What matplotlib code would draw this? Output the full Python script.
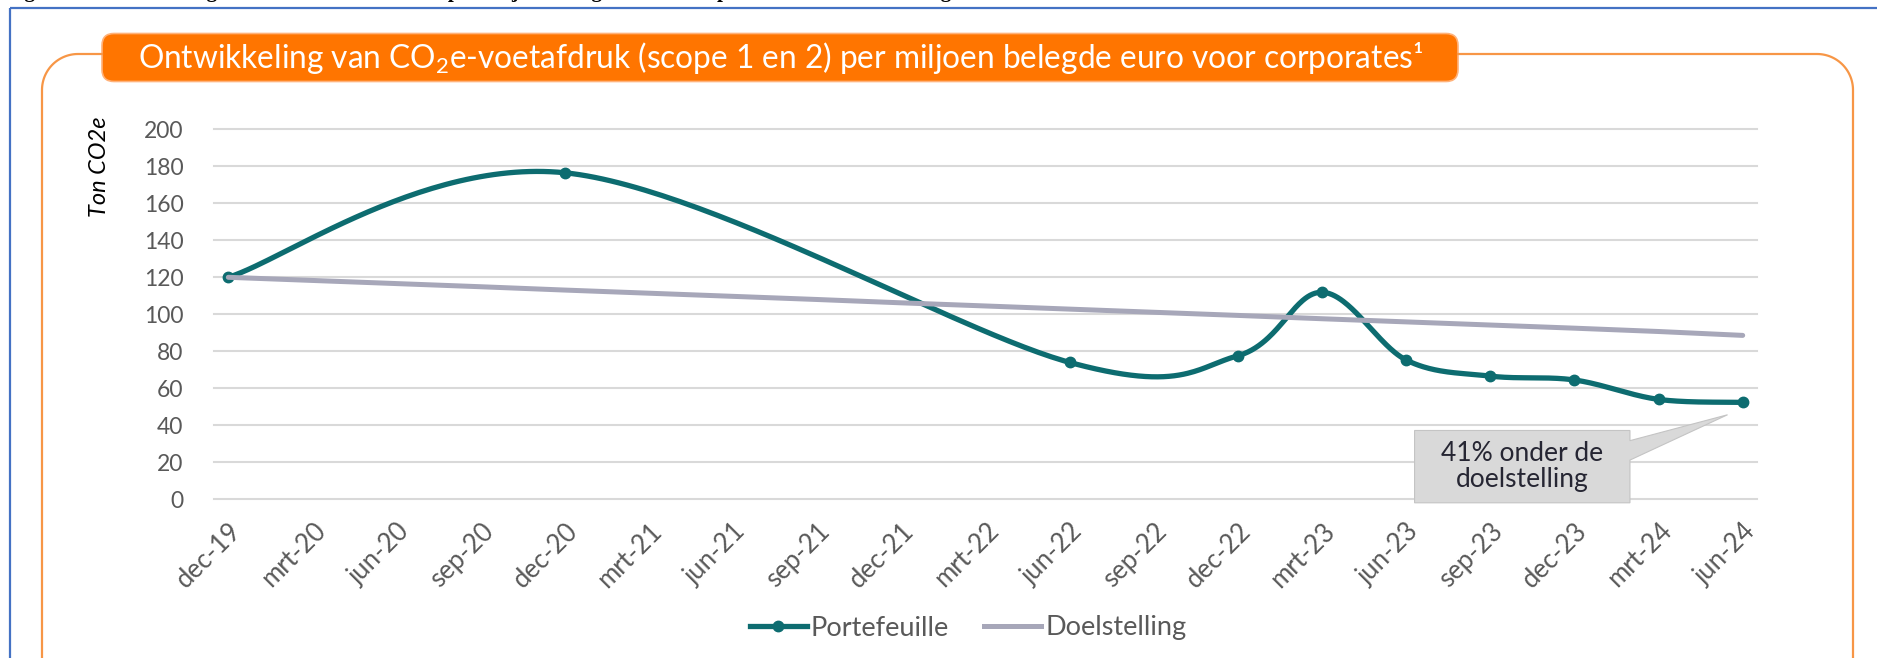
import matplotlib

matplotlib.use("Agg")
import matplotlib.pyplot as plt
import numpy as np
from matplotlib.lines import Line2D
from matplotlib.patches import FancyBboxPatch, Polygon
from matplotlib.transforms import ScaledTranslation

W, H, DPI = 1877, 658, 100

months = ["dec-19", "mrt-20", "jun-20", "sep-20", "dec-20", "mrt-21", "jun-21",
          "sep-21", "dec-21", "mrt-22", "jun-22", "sep-22", "dec-22", "mrt-23",
          "jun-23", "sep-23", "dec-23", "mrt-24", "jun-24"]
port_months = ["dec-19", "dec-20", "jun-22", "dec-22", "mrt-23", "jun-23",
               "sep-23", "dec-23", "mrt-24", "jun-24"]
port_values = [120.0, 176.5, 74.0, 77.6, 111.9, 75.3, 66.6, 64.5, 54.0, 52.4]
target_values = [120.0, 118.3, 116.6, 114.9, 113.1, 111.4, 109.7, 108.0, 106.2,
                 104.5, 102.8, 101.1, 99.4, 97.6, 95.9, 94.2, 92.5, 90.7, 88.6]
yticks = [0, 20, 40, 60, 80, 100, 120, 140, 160, 180, 200]
callout_text = "41% onder de\ndoelstelling"

TEAL = "#0D6C70"
GREY = "#A7A7B9"
LABEL = "#595959"
ORANGE = "#FF7500"
FRAME = "#F79646"
BLUE = "#4472C4"

plt.rcParams["font.family"] = ["Lato", "DejaVu Sans"]
plt.rcParams["mathtext.fontset"] = "custom"
plt.rcParams["mathtext.rm"] = "Lato"
plt.rcParams["mathtext.it"] = "Lato:italic"


def excel_smooth(x, y, n=60):
    # Bezier smoothing like Excel's "smoothed line"
    pts = np.column_stack([x, y]).astype(float)
    out = [pts[:1]]
    t = np.linspace(0, 1, n)[1:, None]
    for i in range(len(pts) - 1):
        p0 = pts[max(i - 1, 0)]
        p1, p2 = pts[i], pts[i + 1]
        p3 = pts[min(i + 2, len(pts) - 1)]
        c1 = p1 + (p2 - p0) / 6
        c2 = p2 - (p3 - p1) / 6
        seg = (1 - t) ** 3 * p1 + 3 * (1 - t) ** 2 * t * c1 + 3 * (1 - t) * t ** 2 * c2 + t ** 3 * p2
        out.append(seg)
    return np.vstack(out)


fig = plt.figure(figsize=(W / DPI, H / DPI), dpi=DPI)

# --- decorations in pixel space ---
bg = fig.add_axes([0, 0, 1, 1], zorder=0)
bg.set_xlim(0, W)
bg.set_ylim(H, 0)
bg.axis("off")
bg.plot([9.6, W], [8.4, 8.4], color=BLUE, lw=1.6, solid_capstyle="butt")
bg.plot([9.6, 9.6], [8.4, H], color=BLUE, lw=1.6, solid_capstyle="butt")

R = 36
ang = np.linspace(np.pi, 1.5 * np.pi, 30)
lx = np.concatenate([[42, 42], 42 + R + R * np.cos(ang), [102]])
ly = np.concatenate([[H, 54 + R], 54 + R + R * np.sin(ang), [54]])
bg.plot(lx, ly, color=FRAME, lw=1.6)
ang2 = np.linspace(1.5 * np.pi, 2 * np.pi, 30)
rx = np.concatenate([[1458], 1853 - R + R * np.cos(ang2), [1853, 1853]])
ry = np.concatenate([[54], 54 + R + R * np.sin(ang2), [54 + R, H]])
bg.plot(rx, ry, color=FRAME, lw=1.6)

bg.add_patch(FancyBboxPatch((102, 33.5), 1356, 48, boxstyle="round,pad=0,rounding_size=12",
                            facecolor=ORANGE, edgecolor="#FFB27A", lw=1.2))
title = bg.text(781, 58, "Ontwikkeling van CO$_2$e-voetafdruk (scope 1 en 2) per miljoen belegde euro voor corporates¹",
                color="white", fontsize=20, ha="center", va="center")
fig.canvas.draw()
tw = title.get_window_extent().width
title.set_fontsize(20 * 1287 / tw)

# caption above the frame, mostly cut off by the crop of the page
fig.text(6 / W, 1 + 2.5 / H, "Figuur 9: Ontwikkeling van de CO2e-voetafdruk per miljoen belegde euro ten opzichte van de doelstelling",
         family=["Liberation Serif", "DejaVu Serif"], weight="bold", fontsize=15, va="baseline", ha="left")

fig.text(100 / W, 1 - 167 / H, "Ton CO2e", rotation=90, style="italic", fontsize=17,
         ha="center", va="center", color="black")

# --- chart ---
ax = fig.add_axes([214 / W, 1 - 499.3 / H, (1757 - 214) / W, (499.3 - 129.3) / H], zorder=1)
ax.patch.set_alpha(0)
xi = {m: i for i, m in enumerate(months)}
px = [xi[m] for m in port_months]
curve = excel_smooth(px, port_values)
ax.plot(curve[:, 0], curve[:, 1], color=TEAL, lw=3.8, solid_capstyle="round", zorder=2)
ax.plot(px, port_values, "o", color=TEAL, ms=7.5, zorder=2)
ax.plot(range(len(months)), target_values, color=GREY, lw=3.6, solid_capstyle="round", zorder=3)

ax.set_xlim(-0.17, len(months) - 1 + 0.17)
ax.set_ylim(0, 200)
ax.set_yticks(yticks)
ax.set_xticks(range(len(months)))
ax.set_xticklabels(months, rotation=45, ha="right", va="center", rotation_mode="anchor")
ax.tick_params(axis="both", length=0, labelcolor=LABEL)
ax.tick_params(axis="y", pad=22, labelsize=16.5)
ax.tick_params(axis="x", pad=20, labelsize=18.5)
shift = ScaledTranslation(9 / DPI, 0, fig.dpi_scale_trans)
for lab in ax.get_xticklabels():
    lab.set_transform(lab.get_transform() + shift)
ax.yaxis.grid(True, color="#D9D9D9", lw=1.5)
for gl in ax.get_ygridlines():
    gl.set_clip_on(False)
ax.set_axisbelow(True)
for s in ax.spines.values():
    s.set_visible(False)

# callout
last_x, last_y = px[-1], port_values[-1]
tip = (last_x - 0.18, last_y - 6.7)
shape = [(14.1, 37.2), (16.66, 37.2), (16.66, 31.7), tip, (16.66, 21.2),
         (16.66, -1.9), (14.1, -1.9)]
ax.add_patch(Polygon(shape, closed=True, facecolor="#D9D9D9", edgecolor="#C4C4C4",
                     lw=0.8, zorder=4, clip_on=False))
ax.text(15.38, 17.7, callout_text, ha="center", va="center", fontsize=19,
        color="#262633", zorder=5, linespacing=1.08)

handles = [Line2D([], [], color=TEAL, lw=3.8, marker="o", ms=7.5),
           Line2D([], [], color=GREY, lw=3.6)]
leg = fig.legend(handles, ["Portefeuille", "Doelstelling"], loc="center",
                 bbox_to_anchor=(968 / W, 1 - 628 / H), ncol=2, frameon=False,
                 fontsize=19.5, handlelength=2.1, handletextpad=0.15, columnspacing=1.3)
for t in leg.get_texts():
    t.set_color(LABEL)

fig.savefig("out.png", dpi=DPI)
